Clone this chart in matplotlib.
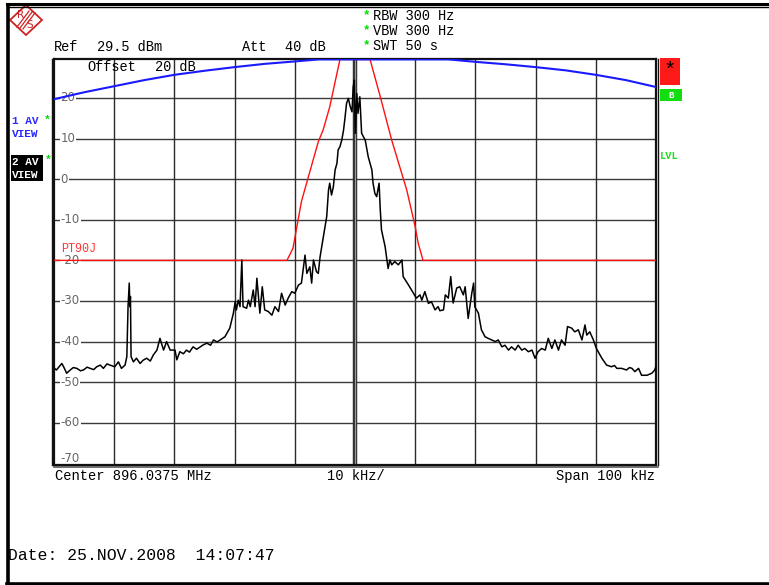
import matplotlib
matplotlib.use("Agg")
import matplotlib.pyplot as plt
from matplotlib.lines import Line2D
from matplotlib.patches import Rectangle, Polygon

# ---------------- data ----------------
# Trace 2 (AV, black) : frequency offset from centre (kHz), level (dBm)
trace2_freq = [-50.0, -49.6, -48.7, -48.4, -47.9, -47.3, -46.8, -46.2, -45.6, -45.1, -44.5, -44.0,
               -43.4, -42.9, -42.3, -41.8, -41.2, -40.7, -39.9, -39.3, -38.8, -38.2, -37.9, -37.7,
               -37.5, -37.4, -37.3, -37.2, -36.8, -36.3, -35.7, -35.2, -34.6, -34.0, -33.5, -32.9,
               -32.4, -31.8, -31.3, -30.7, -29.9, -29.6, -29.1, -28.5, -28.0, -27.5, -26.9, -26.3,
               -25.7, -25.2, -24.6, -24.0, -23.5, -22.9, -22.4, -21.6, -20.8, -20.2, -19.9, -19.7,
               -19.4, -19.1, -18.8, -18.6, -18.0, -17.7, -17.4, -16.9, -16.6, -16.3, -15.8, -15.4,
               -15.0, -14.4, -13.8, -13.3, -12.7, -12.2, -11.6, -11.1, -10.5, -10.0, -9.4, -8.9,
               -8.3, -8.0, -7.5, -7.2, -6.9, -6.4, -6.1, -5.8, -5.3, -4.7, -4.4, -4.2, -3.9, -3.6,
               -3.3, -3.0, -2.8, -2.5, -2.2, -1.9, -1.7, -1.4, -1.1, -0.8, -0.5, -0.3, -0.1, 0.05,
               0.3, 0.5, 0.8, 1.1, 1.7, 2.2, 2.8, 3.0, 3.3, 3.6, 3.9, 4.0, 4.2, 4.4, 5.0, 5.5, 5.8,
               6.1, 6.6, 7.2, 7.8, 8.0, 8.9, 9.7, 10.2, 10.8, 11.1, 11.6, 12.2, 12.7, 13.3, 13.8,
               14.1, 14.7, 15.0, 15.5, 15.9, 16.3, 16.9, 17.4, 18.0, 18.3, 18.8, 19.4, 19.7, 19.9,
               20.5, 21.0, 21.6, 22.1, 22.7, 23.3, 23.8, 24.4, 24.9, 25.5, 26.0, 26.6, 27.1, 27.7,
               28.2, 28.8, 29.4, 29.9, 30.4, 31.0, 31.6, 32.1, 32.7, 33.2, 33.8, 34.3, 34.9, 35.3,
               36.0, 36.5, 37.1, 37.7, 38.2, 38.5, 39.0, 39.6, 40.1, 41.0, 41.8, 42.6, 43.1, 43.5,
               44.3, 45.1, 45.6, 46.0, 46.5, 47.1, 47.6, 48.5, 49.3, 49.8, 50.0]
trace2_dbm = [-46.5, -47.0, -45.4, -46.2, -47.8, -47.0, -46.4, -46.6, -47.2, -47.0, -46.3, -46.6,
              -46.9, -46.2, -45.8, -46.6, -45.5, -45.8, -46.2, -45.0, -46.6, -45.8, -43.7, -31.4,
              -25.6, -31.4, -28.9, -43.7, -45.0, -44.1, -45.4, -44.6, -44.1, -44.8, -43.3, -42.1,
              -39.2, -42.1, -40.0, -42.1, -42.1, -44.5, -42.5, -43.0, -42.1, -42.6, -41.3, -41.9,
              -41.3, -40.8, -40.4, -40.9, -39.6, -40.1, -39.6, -38.8, -36.7, -33.0, -30.2, -32.2,
              -29.8, -31.4, -19.9, -31.4, -31.8, -29.8, -31.4, -27.3, -31.4, -24.4, -33.0, -26.5,
              -32.2, -32.6, -33.5, -31.4, -32.6, -28.1, -31.0, -29.3, -27.7, -28.1, -26.1, -25.6,
              -18.7, -23.2, -21.6, -25.6, -19.9, -22.8, -23.2, -19.1, -14.6, -9.2, -2.7, -1.0,
              -3.9, -1.9, 2.3, 3.9, 7.2, 8.0, 9.6, 12.1, 14.6, 18.7, 19.9, 17.9, 16.6, 22.8, 24.4,
              11.3, 21.1, 16.2, 20.3, 11.3, 9.6, 5.5, 2.3, -1.0, -3.5, -4.3, -1.9, -1.0, -7.6,
              -12.5, -16.6, -22.0, -19.9, -21.1, -20.3, -21.1, -19.9, -24.0, -26.1, -28.1, -29.3,
              -28.5, -29.8, -27.7, -30.6, -30.2, -32.2, -31.4, -32.4, -32.2, -28.5, -29.3, -24.0,
              -30.5, -26.8, -26.5, -28.5, -26.5, -34.3, -28.1, -25.6, -31.4, -33.0, -37.1, -38.8,
              -39.2, -39.6, -40.0, -39.6, -41.3, -40.9, -42.1, -41.3, -42.1, -40.9, -42.1, -41.7,
              -42.5, -42.1, -44.1, -42.5, -41.7, -42.1, -39.2, -41.7, -39.6, -42.1, -39.6, -40.9,
              -36.3, -36.7, -37.6, -37.1, -39.6, -35.9, -38.4, -37.6, -39.6, -41.7, -44.1, -45.8,
              -46.2, -45.9, -46.6, -46.6, -47.0, -46.4, -46.6, -47.4, -46.6, -48.3, -48.3, -47.8,
              -47.0, -46.0]

# Trace 1 (AV, blue)
trace1_freq = [-50, -45, -40, -35, -30, -25, -20, -15, -10, -6, 15.5, 20, 25, 30, 35, 40, 45, 50]
trace1_dbm = [19.7, 21.4, 22.9, 24.4, 25.7, 26.7, 27.6, 28.4, 29.0, 29.5, 29.5, 28.9, 28.3,
              27.6, 26.8, 25.7, 24.4, 22.7]

# Limit line PT90J (red)
limit_freq = [-50, -11.3, -10.3, -8.9, -6.1, -5.3, -4.2, -2.5, 2.5, 4.2, 6.1, 8.6, 10.0, 10.5, 11.3, 50]
limit_dbm = [-20, -20, -17.0, -5.5, 9.2, 12.1, 17.8, 29.5, 29.5, 20.3, 9.6, -2.7, -11.7, -15.8, -20, -20]

ygrid_values = [20, 10, 0, -10, -20, -30, -40, -50, -60]
ytick_labels = ["20", "10", "0", "-10", "-20", "-30", "-40", "-50", "-60", "-70"]
ytick_values = [20, 10, 0, -10, -20, -30, -40, -50, -60, -70]
xgrid_values = [-40, -30, -20, -10, 10, 20, 30, 40]

ref_level = 29.5
bottom_level = -70.5

# ---------------- figure ----------------
W, H = 769, 585
fig = plt.figure(figsize=(W / 100, H / 100), dpi=100)
fig.patch.set_facecolor("white")


def fx(x):
    return x / W


def fy(y):
    return 1 - y / H


L, R, T, B = 54, 656, 59.4, 465.4
ax = fig.add_axes([fx(L), fy(B), (R - L) / W, (B - T) / H])
ax.set_xlim(-50, 50)
ax.set_ylim(bottom_level, ref_level)
ax.set_xticks([])
ax.set_yticks([])
for s in ax.spines.values():
    s.set_linewidth(1.6)
    s.set_color("#111111")

# grid
for v in ygrid_values:
    ax.axhline(v, color="#3a3a3a", lw=1.0, zorder=1)
for f in xgrid_values:
    ax.axvline(f, color="#2a2a2a", lw=1.0, zorder=1)
ax.axvline(0, color="#333333", lw=3.2, zorder=1)
ax.axvline(0, color="#9a9a9a", lw=0.8, zorder=1)

# y labels inside plot
mono = "Liberation Mono"
for v, lab in zip(ytick_values, ytick_labels):
    yv = v if v > -70 else -68.8
    ax.text(-48.9, yv, lab, ha="left", va="center", fontsize=8.5, color="#666666",
            family="DejaVu Sans", zorder=2,
            bbox=dict(facecolor="white", edgecolor="none", pad=0.5))

# traces
ax.plot(limit_freq, limit_dbm, color="#ff1010", lw=1.0, zorder=3)
ax.plot(trace1_freq, trace1_dbm, color="#1a1aff", lw=1.5, zorder=4)
ax.plot(trace2_freq, trace2_dbm, color="black", lw=1.1, zorder=5)
ax.text(-48.8, -18.7, "PT90J", color="#ff3333", fontsize=8.5, family=mono,
        ha="left", va="bottom", zorder=6)

# double borders of plot
fig.add_artist(Line2D([fx(L - 2), fx(L - 2)], [fy(T), fy(B)], color="#111111", lw=1.0))
fig.add_artist(Line2D([fx(R + 2), fx(R + 2)], [fy(T), fy(B)], color="#111111", lw=1.0))
fig.add_artist(Line2D([fx(L), fx(R + 2)], [fy(B + 1.5), fy(B + 1.5)], color="#555555", lw=1.2))

# header texts
fs = 9.8
fig.text(fx(54), fy(47), "Ref", fontsize=fs, family=mono, va="center")
fig.text(fx(97), fy(47), "29.5 dBm", fontsize=fs, family=mono, va="center")
fig.text(fx(242), fy(47), "Att", fontsize=fs, family=mono, va="center")
fig.text(fx(285), fy(47), "40 dB", fontsize=fs, family=mono, va="center")
fig.text(fx(87), fy(67), "Offset", fontsize=fs, family=mono, va="center")
fig.text(fx(155), fy(67), "20 dB", fontsize=fs, family=mono, va="center")
for yy, t in zip([16, 31, 46], ["RBW 300 Hz", "VBW 300 Hz", "SWT 50 s"]):
    fig.text(fx(363), fy(yy - 1), "*", fontsize=9, family=mono, weight="bold", color="#00dd00", va="center")
    fig.text(fx(373), fy(yy), t, fontsize=fs, family=mono, va="center")

# left side labels
fig.text(fx(12), fy(121), "1 AV", fontsize=8, family=mono, weight="bold", color="#2a2aff", va="center")
fig.text(fx(12), fy(134), "VIEW", fontsize=8, family=mono, weight="bold", color="#2a2aff", va="center")
fig.text(fx(44), fy(120), "*", fontsize=8, family=mono, weight="bold", color="#00dd00", va="center")
fig.add_artist(Rectangle((fx(11), fy(181)), 32 / W, 26 / H, facecolor="black", edgecolor="none"))
fig.text(fx(12), fy(162), "2 AV", fontsize=8, family=mono, weight="bold", color="white", va="center")
fig.text(fx(12), fy(175), "VIEW", fontsize=8, family=mono, weight="bold", color="white", va="center")
fig.text(fx(45), fy(160), "*", fontsize=8, family=mono, weight="bold", color="#00dd00", va="center")

# right side markers
fig.add_artist(Rectangle((fx(660), fy(85)), 20 / W, 27 / H, facecolor="#ff1a1a", edgecolor="none"))
fig.text(fx(670), fy(70), "*", fontsize=15, family=mono, color="black", ha="center", va="center")
fig.add_artist(Rectangle((fx(660), fy(101)), 22 / W, 12 / H, facecolor="#11dd11", edgecolor="none"))
fig.text(fx(671), fy(95), "B", fontsize=6.5, family=mono, weight="bold", color="white", ha="center", va="center")
fig.text(fx(660), fy(156), "LVL", fontsize=7.5, family=mono, weight="bold", color="#22dd22", va="center")

# bottom texts
fig.text(fx(55), fy(476), "Center 896.0375 MHz", fontsize=9.9, family=mono, va="center")
fig.text(fx(327), fy(476), "10 kHz/", fontsize=9.9, family=mono, va="center")
fig.text(fx(655), fy(476), "Span 100 kHz", fontsize=9.9, family=mono, va="center", ha="right")
fig.text(fx(8), fy(556), "Date: 25.NOV.2008  14:07:47", fontsize=11.8, family=mono, va="center")

# outer frame
fig.add_artist(Line2D([fx(7), 1], [fy(3.5), fy(3.5)], color="black", lw=2.2))
fig.add_artist(Line2D([fx(7), 1], [fy(6.5), fy(6.5)], color="black", lw=1.0))
fig.add_artist(Line2D([fx(8), fx(8)], [fy(7), fy(584)], color="black", lw=2.6))
fig.add_artist(Line2D([fx(7), 1], [fy(583.5), fy(583.5)], color="black", lw=2.6))

# R&S logo
cx, cy = 26, 20
logo = Polygon([(fx(cx), fy(cy - 15)), (fx(cx + 16), fy(cy)), (fx(cx), fy(cy + 15)), (fx(cx - 16), fy(cy))],
               closed=True, facecolor="none", edgecolor="#cc2222", lw=1.3)
fig.add_artist(logo)
for d in [-3, 0, 3]:
    fig.add_artist(Line2D([fx(cx + 6 + d), fx(cx - 6 + d)], [fy(cy - 8 + d * 0.3), fy(cy + 8 + d * 0.3)],
                          color="#cc2222", lw=0.9))
fig.text(fx(21), fy(15), "R", fontsize=7.5, color="#cc2222", ha="center", va="center", family="DejaVu Sans")
fig.text(fx(30), fy(25), "S", fontsize=7.5, color="#cc2222", ha="center", va="center", family="DejaVu Sans")

fig.savefig("out.png", dpi=100, facecolor="white")
